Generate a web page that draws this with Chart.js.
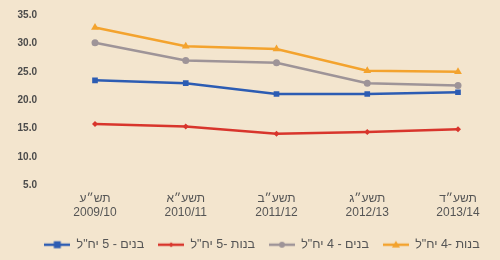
<!DOCTYPE html>
<html>
<head>
<meta charset="utf-8">
<script src="https://cdn.jsdelivr.net/npm/chart.js@4.4.1/dist/chart.umd.min.js"></script>
<style>
  html, body { margin: 0; padding: 0; background: #f3e5ce; }
  #wrap { width: 500px; height: 260px; }
</style>
</head>
<body>
<div id="wrap"><canvas id="chart"></canvas></div>
<script>
// categories (Hebrew school year + civil year)
var years = [
  ['תש״ע', '2009/10'],
  ['תשע״א', '2010/11'],
  ['תשע״ב', '2011/12'],
  ['תשע״ג', '2012/13'],
  ['תשע״ד', '2013/14']
];

// series values
var boys5  = [23.5, 23.0, 21.1, 21.1, 21.4];
var girls5 = [15.8, 15.4, 14.1, 14.4, 14.9];
var boys4  = [30.1, 27.0, 26.6, 23.0, 22.6];
var girls4 = [32.8, 29.5, 29.0, 25.2, 25.0];

var seriesNames = ['בנים - 5 יח"ל', 'בנות -5 יח"ל', 'בנים - 4 יח"ל', 'בנות -4 יח"ל'];

// y axis range
var yMin = 5, yMax = 35, yStep = 5;

var colors = ['#2c5cb3', '#d8352c', '#9e9498', '#f3a32e'];
var styles = ['rect', 'rectRot', 'circle', 'triangle'];
var radii = [4, 3, 3.5, 4.5];

// small line+marker picture for the legend
function legendIcon(color, style, r){
  var c = document.createElement('canvas');
  c.width = 26; c.height = 10;
  var g = c.getContext('2d');
  g.strokeStyle = color; g.lineWidth = 2.5;
  g.beginPath(); g.moveTo(0, 5); g.lineTo(26, 5); g.stroke();
  g.fillStyle = color;
  g.beginPath();
  if (style === 'rect') { g.rect(13 - r, 5 - r, r * 2, r * 2); }
  else if (style === 'rectRot') { g.moveTo(13, 5 - r); g.lineTo(13 + r, 5); g.lineTo(13, 5 + r); g.lineTo(13 - r, 5); g.closePath(); }
  else if (style === 'circle') { g.arc(13, 5, r, 0, Math.PI * 2); }
  else { g.moveTo(13, 5 - r); g.lineTo(13 + r, 5 + r * 0.7); g.lineTo(13 - r, 5 + r * 0.7); g.closePath(); }
  g.fill();
  return c;
}

var allData = [boys5, girls5, boys4, girls4];
var datasets = allData.map(function(d, i){
  return {
    label: seriesNames[i],
    data: d,
    borderColor: colors[i],
    backgroundColor: colors[i],
    borderWidth: 2.5,
    pointStyle: styles[i],
    pointRadius: radii[i],
    pointBorderWidth: 0,
    tension: 0,
    yAxisID: 'y'
  };
});

var icons = datasets.map(function(d, i){ return legendIcon(colors[i], styles[i], radii[i] - 0.5); });

function hiddenAxis(pos, w){
  return {
    position: pos,
    display: true,
    weight: 0,
    grid: { display: false, drawTicks: false },
    border: { display: false },
    ticks: { display: false },
    afterFit: function(s){ s.width = w; }
  };
}

// legend in the original sits a little right of centre
var legendShift = {
  id: 'legendShift',
  afterLayout: function(chart){
    if (chart.legend) { chart.legend.left += 12; chart.legend.right += 12; }
  }
};

new Chart(document.getElementById('chart'), {
  type: 'line',
  data: { labels: years, datasets: datasets },
  plugins: [legendShift],
  options: {
    responsive: true,
    maintainAspectRatio: false,
    animation: false,
    layout: { padding: { left: 0, right: 0, top: 15, bottom: -1 } },
    plugins: {
      tooltip: { enabled: false },
      legend: {
        position: 'bottom',
        labels: {
          usePointStyle: true,
          pointStyleWidth: 26,
          padding: 14,
          color: '#555',
          font: { family: 'Liberation Sans', size: 12.5 },
          generateLabels: function(chart){
            return chart.data.datasets.map(function(ds, i){
              return { text: ds.label, pointStyle: icons[i], fillStyle: ds.borderColor, strokeStyle: ds.borderColor, lineWidth: 0, datasetIndex: i, fontColor: '#555' };
            });
          }
        }
      }
    },
    scales: {
      x: {
        offset: false,
        grid: { display: false, drawTicks: false },
        border: { display: false },
        ticks: { padding: 6, color: '#555', font: { family: 'Liberation Sans', size: 12 }, maxRotation: 0, autoSkip: false },
        afterFit: function(s){ s.height = 39; }
      },
      y: {
        min: yMin, max: yMax,
        weight: 1,
        grid: { display: false, drawTicks: false },
        border: { display: false },
        ticks: { stepSize: yStep, padding: 4, color: '#4a4a4a', font: { family: 'Liberation Sans', size: 10, weight: 'bold' },
          callback: function(v){ return Number(v).toFixed(1); } },
        afterFit: function(s){ s.width = 41; }
      },
      yGap: hiddenAxis('left', 54),
      yRight: hiddenAxis('right', 42)
    }
  }
});
</script>
</body>
</html>
